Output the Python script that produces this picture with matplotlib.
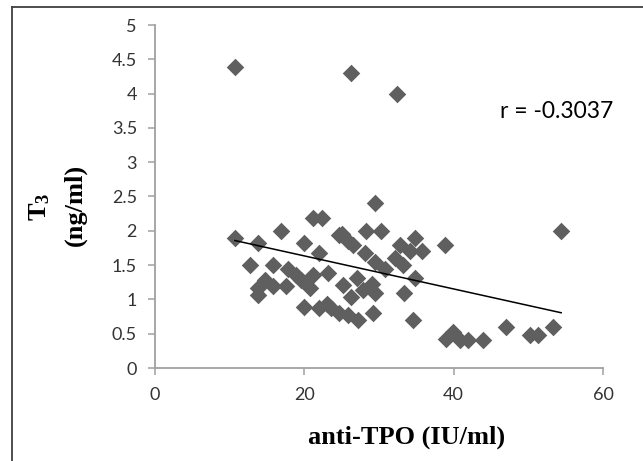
import numpy as np
import matplotlib.pyplot as plt
from matplotlib.lines import Line2D
from matplotlib.ticker import FuncFormatter

plt.rcParams['mathtext.fontset'] = 'custom'
plt.rcParams['mathtext.bf'] = 'Liberation Serif:bold'
plt.rcParams['mathtext.rm'] = 'Liberation Serif:bold'

# anti-TPO (IU/ml) e T3 (ng/ml)
anti_tpo = [10.7, 26.3, 32.4,
            10.7, 13.8, 16.9, 21.2, 22.3, 20.0, 22.0, 24.7, 12.7, 15.8,
            17.8, 18.9, 19.6, 14.7, 13.8, 13.8, 15.8, 17.6, 20.7, 21.2,
            23.2, 20.0, 22.0, 23.6, 24.7,
            29.5, 25.0, 28.3, 30.3, 34.8, 38.8, 35.8, 26.5, 28.1, 29.5,
            30.8, 32.8, 34.1, 32.1, 33.2, 34.8, 33.4, 34.5, 29.2, 27.2,
            29.4, 25.2, 27.0, 27.9, 29.0, 26.3, 23.0, 25.9, 25.8,
            39.0, 39.9, 40.8, 41.9, 43.9, 47.0, 50.2, 51.3, 53.3, 54.4]
t3 = [4.39, 4.30, 3.99,
      1.89, 1.82, 1.99, 2.19, 2.19, 1.82, 1.67, 1.94, 1.50, 1.50,
      1.45, 1.36, 1.28, 1.28, 1.16, 1.06, 1.19, 1.19, 1.16, 1.36,
      1.38, 0.89, 0.87, 0.87, 0.80,
      2.40, 1.96, 1.99, 1.99, 1.89, 1.80, 1.70, 1.79, 1.67, 1.55,
      1.45, 1.79, 1.70, 1.60, 1.50, 1.31, 1.09, 0.70, 0.80, 0.70,
      1.09, 1.21, 1.31, 1.14, 1.23, 1.04, 0.94, 0.77, 1.85,
      0.43, 0.53, 0.41, 0.41, 0.41, 0.60, 0.48, 0.48, 0.60, 1.99]
r_text = 'r = -0.3037'

x = np.array(anti_tpo)
y = np.array(t3)

fig = plt.figure(figsize=(6.43, 4.61), dpi=100)
ax = fig.add_axes([155/643, 93/461, 448/643, 343/461])

ax.scatter(x, y, marker='D', s=80, color='#5f5f5f', linewidths=0, zorder=3)

# linha de tendência linear (como no Excel)
a, b = np.polyfit(x, y, 1)
xs = np.array([x.min(), x.max()])
ax.plot(xs, a * xs + b, color='black', lw=1.1, zorder=4)

ax.set_xlim(0, 60)
ax.set_ylim(0, 5)
ax.set_xticks([0, 20, 40, 60])
ax.set_yticks(np.arange(0, 5.01, 0.5))
ax.yaxis.set_major_formatter(FuncFormatter(lambda v, p: '%g' % v))

for s in ['top', 'right']:
    ax.spines[s].set_visible(False)
for s in ['left', 'bottom']:
    ax.spines[s].set_color('#a0a0a0')
    ax.spines[s].set_linewidth(1.3)
ax.tick_params(axis='both', direction='out', length=5, width=1.1, color='#a0a0a0',
               labelsize=13, labelcolor='#333333')
ax.tick_params(axis='y', pad=8)
ax.tick_params(axis='x', pad=9)
for lab in ax.get_xticklabels() + ax.get_yticklabels():
    lab.set_family('Lato')

ax.text(557/643, 1 - 112/461, r_text, transform=fig.transFigure, ha='center', va='center',
        fontsize=16.5, family='Lato', color='black')

fig.text(407/643, 1 - 437/461, 'anti-TPO (IU/ml)', ha='center', va='center',
         fontsize=19, family='Liberation Serif', weight='bold')
fig.text(40/643, 1 - 207/461, r'$\mathbf{T_3}$', ha='center', va='center', rotation=90,
         fontsize=19, family='Liberation Serif', weight='bold')
fig.text(75/643, 1 - 205/461, '(ng/ml)', ha='center', va='center', rotation=90,
         fontsize=19, family='Liberation Serif', weight='bold')

# moldura externa
fig.add_artist(Line2D([12/643, 12/643], [0, 1 - 7/461], transform=fig.transFigure,
                      color='#404040', lw=1.3))
fig.add_artist(Line2D([12/643, 1], [1 - 7/461, 1 - 7/461], transform=fig.transFigure,
                      color='#404040', lw=1.3))

fig.savefig('out.png', dpi=100)
